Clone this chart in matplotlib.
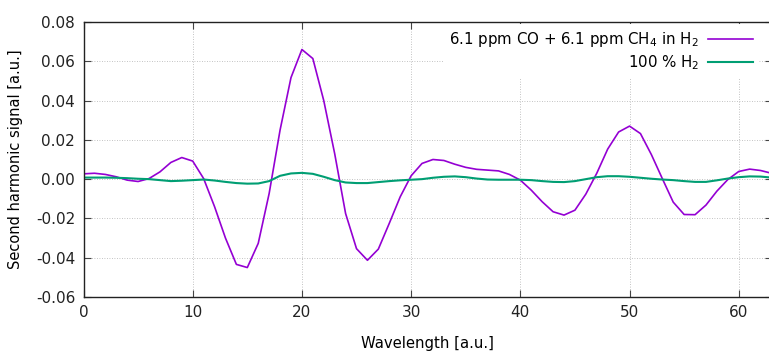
import matplotlib
matplotlib.use("Agg")
import matplotlib.pyplot as plt

# wavelength index
x = list(range(0, 64))

# 6.1 ppm CO + 6.1 ppm CH4 in H2
mix = [0.0027, 0.0030, 0.0024, 0.0012, -0.0005, -0.0012, 0.0003, 0.0037, 0.0085, 0.0110,
       0.0092, 0.0003, -0.0140, -0.0300, -0.0434, -0.0450, -0.0327, -0.0073, 0.0250, 0.0517,
       0.0660, 0.0614, 0.0400, 0.0130, -0.0175, -0.0354, -0.0413, -0.0356, -0.0225, -0.0090,
       0.0017, 0.0080, 0.0100, 0.0095, 0.0076, 0.0060, 0.0050, 0.0046, 0.0042, 0.0024,
       -0.0005, -0.0056, -0.0115, -0.0166, -0.0183, -0.0158, -0.0076, 0.0030, 0.0153, 0.0240,
       0.0270, 0.0232, 0.0125, 0.0003, -0.0117, -0.0180, -0.0181, -0.0132, -0.0061, -0.0002,
       0.0039, 0.0051, 0.0044, 0.0030]

# 100 % H2
h2 = [0.0008, 0.0008, 0.0008, 0.0007, 0.0005, 0.0002, 0.0000, -0.0005, -0.0010, -0.0008,
      -0.0005, -0.0002, -0.0007, -0.0014, -0.0020, -0.0023, -0.0022, -0.0010, 0.0017, 0.0029,
      0.0032, 0.0027, 0.0012, -0.0005, -0.0017, -0.0020, -0.0020, -0.0015, -0.0010, -0.0006,
      -0.0003, 0.0000, 0.0007, 0.0012, 0.0014, 0.0010, 0.0003, -0.0002, -0.0003, -0.0003,
      -0.0003, -0.0005, -0.0010, -0.0014, -0.0015, -0.0010, 0.0000, 0.0010, 0.0015, 0.0015,
      0.0012, 0.0007, 0.0002, -0.0002, -0.0005, -0.0010, -0.0014, -0.0014, -0.0006, 0.0003,
      0.0010, 0.0014, 0.0013, 0.0008]

xticks = [0, 10, 20, 30, 40, 50, 60]
yticks = [-0.06, -0.04, -0.02, 0.00, 0.02, 0.04, 0.06, 0.08]

fig = plt.figure(figsize=(7.69, 3.52), dpi=100)
ax = fig.add_axes([83.5 / 769, 1 - 297 / 352, 688 / 769, 275 / 352])

ax.plot(x, mix, color="#9400d3", lw=1.2, label="6.1 ppm CO + 6.1 ppm CH$_4$ in H$_2$")
ax.plot(x, h2, color="#009e73", lw=1.5, label="100 % H$_2$")

ax.set_xlim(0, 63)
ax.set_ylim(-0.06, 0.08)
ax.set_xticks(xticks)
ax.set_yticks(yticks)
ax.set_yticklabels(["%.2f" % v for v in yticks])
ax.tick_params(direction="in", length=5, top=True, right=True, labelsize=11, pad=6,
               color="#444444", labelcolor="#222222")
ax.grid(True, color="#b0b0b0", linestyle=(0, (1, 2)), lw=0.6)
for s in ax.spines.values():
    s.set_linewidth(1.0)
    s.set_color("#222222")
# right border is cut off in the original image
ax.spines["right"].set_visible(False)

ax.set_xlabel("Wavelength [a.u.]", fontsize=10.7, labelpad=11)
ax.set_ylabel("Second harmonic signal [a.u.]", fontsize=10.5, labelpad=9)

leg = ax.legend(loc="upper right", markerfirst=False, handlelength=3.0, fontsize=10.8,
                frameon=True, fancybox=False, borderaxespad=0.15, labelspacing=0.25,
                handletextpad=0.6, bbox_to_anchor=(0.985, 1.0))
leg.get_frame().set_edgecolor("none")
leg.get_frame().set_facecolor("white")
leg.get_frame().set_alpha(1.0)
for t in leg.get_texts():
    t.set_ha("right")

fig.savefig("out.png", dpi=100)
